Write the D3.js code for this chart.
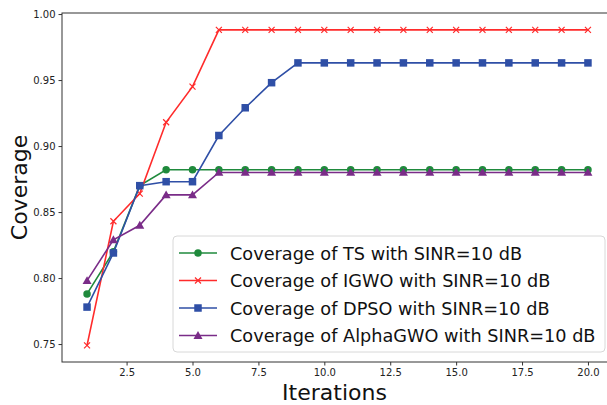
<!DOCTYPE html>
<html>
<head>
<meta charset="utf-8">
<script src="https://cdn.jsdelivr.net/npm/d3@7"></script>
<style>
  body { margin: 0; background: #fff; }
  text { font-family: "DejaVu Sans", sans-serif; }
</style>
</head>
<body>
<div id="chart"></div>
<script>
var largeur = 607;
var hauteur = 405;

// données
var iterations = d3.range(1, 21);
var ts       = [0.788, 0.820, 0.870, 0.882, 0.882, 0.882, 0.882, 0.882, 0.882, 0.882, 0.882, 0.882, 0.882, 0.882, 0.882, 0.882, 0.882, 0.882, 0.882, 0.882];
var igwo     = [0.749, 0.843, 0.864, 0.918, 0.945, 0.988, 0.988, 0.988, 0.988, 0.988, 0.988, 0.988, 0.988, 0.988, 0.988, 0.988, 0.988, 0.988, 0.988, 0.988];
var dpso     = [0.778, 0.819, 0.870, 0.873, 0.873, 0.908, 0.929, 0.948, 0.963, 0.963, 0.963, 0.963, 0.963, 0.963, 0.963, 0.963, 0.963, 0.963, 0.963, 0.963];
var alphagwo = [0.798, 0.829, 0.840, 0.863, 0.863, 0.880, 0.880, 0.880, 0.880, 0.880, 0.880, 0.880, 0.880, 0.880, 0.880, 0.880, 0.880, 0.880, 0.880, 0.880];
var xTicks = [2.5, 5.0, 7.5, 10.0, 12.5, 15.0, 17.5, 20.0];
var yTicks = [0.75, 0.80, 0.85, 0.90, 0.95, 1.00];

var series = [
  {nom: "Coverage of TS with SINR=10 dB", valeurs: ts, couleur: "#1f8a3c", marque: "circle"},
  {nom: "Coverage of IGWO with SINR=10 dB", valeurs: igwo, couleur: "#ff2b2b", marque: "x"},
  {nom: "Coverage of DPSO with SINR=10 dB", valeurs: dpso, couleur: "#2f4fa6", marque: "square"},
  {nom: "Coverage of AlphaGWO with SINR=10 dB", valeurs: alphagwo, couleur: "#7a2c88", marque: "triangle"}
];

var marge = {haut: 13, droite: -6, bas: 43, gauche: 62},
    width = largeur - marge.gauche - marge.droite,
    height = hauteur - marge.haut - marge.bas;

var svg = d3.select("#chart")
  .append("svg")
    .attr("width", largeur)
    .attr("height", hauteur)
  .append("g")
    .attr("transform", "translate(" + marge.gauche + "," + marge.haut + ")");

var x = d3.scaleLinear()
    .domain([0.05, 20.95])
    .range([0, width]);

var y = d3.scaleLinear()
    .domain([0.7364, 1.0008])
    .range([height, 0]);

// axes
var xAxis = svg.append("g")
    .attr("transform", "translate(0," + height + ")")
    .call(d3.axisBottom(x).tickValues(xTicks).tickFormat(d3.format(".1f")).tickSize(3.5).tickPadding(3));
var yAxis = svg.append("g")
    .call(d3.axisLeft(y).tickValues(yTicks).tickFormat(d3.format(".2f")).tickSize(3.5).tickPadding(3));

[xAxis, yAxis].forEach(function(a) {
  a.select(".domain").remove();
  a.selectAll("line").attr("stroke", "#333");
  a.selectAll("text").attr("font-size", "10px").attr("fill", "#222")
    .attr("font-family", "DejaVu Sans");
});

// cadre
svg.append("rect")
    .attr("width", width)
    .attr("height", height)
    .attr("fill", "none")
    .attr("stroke", "#333")
    .attr("stroke-width", 1);

svg.append("text")
    .attr("x", width / 2 - 3)
    .attr("y", height + 38)
    .attr("text-anchor", "middle")
    .attr("font-size", "22px")
    .attr("fill", "#111")
    .text("Iterations");

svg.append("text")
    .attr("transform", "translate(" + (-35) + "," + (height / 2) + ") rotate(-90)")
    .attr("text-anchor", "middle")
    .attr("font-size", "22px")
    .attr("fill", "#111")
    .text("Coverage");

function dessineMarque(g, type, couleur, taille) {
  if (type === "circle") {
    g.append("circle").attr("r", taille * 0.5).attr("fill", couleur);
  } else if (type === "square") {
    g.append("rect").attr("x", -taille * 0.5).attr("y", -taille * 0.5)
      .attr("width", taille).attr("height", taille).attr("fill", couleur);
  } else if (type === "triangle") {
    var s = taille * 0.6;
    g.append("path").attr("d", "M0," + (-s) + "L" + s + "," + (s * 0.75) + "L" + (-s) + "," + (s * 0.75) + "Z")
      .attr("fill", couleur);
  } else {
    var t = taille * 0.4;
    g.append("path").attr("d", "M" + (-t) + "," + (-t) + "L" + t + "," + t + "M" + t + "," + (-t) + "L" + (-t) + "," + t)
      .attr("stroke", couleur).attr("stroke-width", 1.2).attr("fill", "none");
  }
}

var ligne = d3.line()
    .x(function(d, i) { return x(iterations[i]); })
    .y(function(d) { return y(d); });

var trace = svg.append("g");

series.forEach(function(s) {
  trace.append("path")
      .datum(s.valeurs)
      .attr("d", ligne)
      .attr("fill", "none")
      .attr("stroke", s.couleur)
      .attr("stroke-width", 1.6);

  trace.selectAll(null)
      .data(s.valeurs)
      .enter()
      .append("g")
        .attr("transform", function(d, i) { return "translate(" + x(iterations[i]) + "," + y(d) + ")"; })
        .each(function() { dessineMarque(d3.select(this), s.marque, s.couleur, 7.5); });
});

// légende
var leg = svg.append("g")
    .attr("transform", "translate(" + (173 - marge.gauche) + "," + (236 - marge.haut) + ")");

leg.append("rect")
    .attr("width", 432)
    .attr("height", 116)
    .attr("rx", 4)
    .attr("fill", "#fff")
    .attr("fill-opacity", 0.85)
    .attr("stroke", "#d8d8d8");

series.forEach(function(s, i) {
  var yy = 17 + i * 27.5;
  var item = leg.append("g").attr("transform", "translate(0," + yy + ")");
  item.append("line")
      .attr("x1", 6).attr("x2", 44)
      .attr("stroke", s.couleur).attr("stroke-width", 1.6);
  var m = item.append("g").attr("transform", "translate(25,0)");
  dessineMarque(m, s.marque, s.couleur, 7.5);
  item.append("text")
      .attr("x", 57)
      .attr("y", 6.5)
      .attr("font-size", "17.7px")
      .attr("fill", "#111")
      .text(s.nom);
});
</script>
</body>
</html>
